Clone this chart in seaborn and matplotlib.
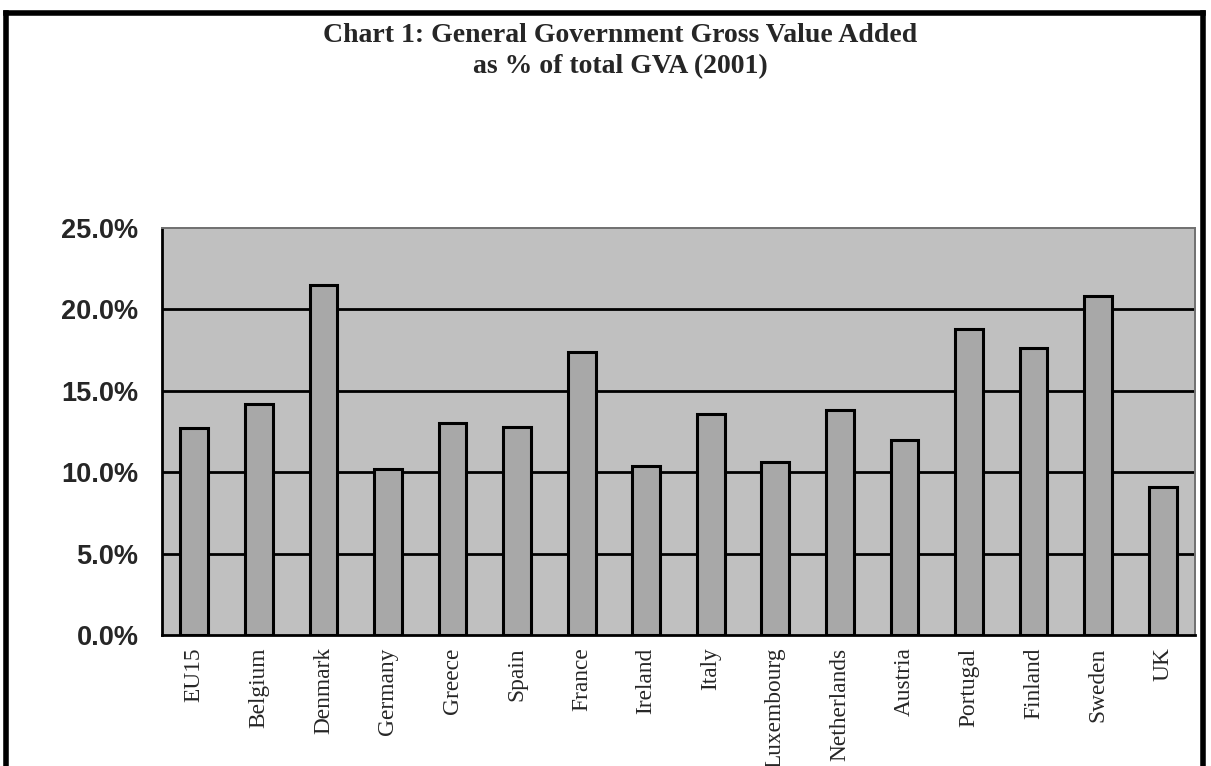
import matplotlib
matplotlib.use("Agg")
import matplotlib.pyplot as plt
from matplotlib.lines import Line2D
from matplotlib.ticker import FixedLocator, PercentFormatter
import seaborn as sns
import pandas as pd

countries = ["EU15", "Belgium", "Denmark", "Germany", "Greece", "Spain", "France",
             "Ireland", "Italy", "Luxembourg", "Netherlands", "Austria", "Portugal",
             "Finland", "Sweden", "UK"]
gva_share = [12.7, 14.2, 21.5, 10.2, 13.0, 12.8, 17.4, 10.4, 13.6, 10.6, 13.8,
             12.0, 18.8, 17.6, 20.8, 9.1]
y_ticks = [0, 5, 10, 15, 20, 25]

df = pd.DataFrame({"country": countries, "share": gva_share})

sns.set_style("white")
W, H = 1211, 766
fig = plt.figure(figsize=(W / 100, H / 100), dpi=100)
fig.patch.set_facecolor("white")

ax = fig.add_axes([162 / W, (H - 635) / H, (1195 - 162) / W, (635 - 228) / H])
ax.set_facecolor("#c0c0c0")

sns.barplot(data=df, x="country", y="share", order=countries, color="#a8a8a8",
            saturation=1, width=0.43, edgecolor="black", linewidth=2.2, ax=ax,
            zorder=3)

ax.set_ylim(0, 25)
ax.set_xlim(-0.5, len(countries) - 0.5)
ax.set_yticks(y_ticks)
ax.yaxis.set_major_formatter(PercentFormatter(decimals=1))
ax.set_xlabel("")
ax.set_ylabel("")

# horizontal gridlines behind the bars
for v in y_ticks[1:-1]:
    ax.axhline(v, color="black", linewidth=2.0, zorder=1)

# spines
for side in ("left", "bottom"):
    ax.spines[side].set_color("black")
    ax.spines[side].set_linewidth(2.0)
for side in ("top", "right"):
    ax.spines[side].set_color("#707070")
    ax.spines[side].set_linewidth(1.4)

ax.tick_params(axis="y", which="major", direction="inout", length=14, width=2,
               color="black", pad=10)
for lab in ax.get_yticklabels():
    lab.set_fontfamily("Liberation Sans")
    lab.set_fontweight("bold")
    lab.set_fontsize(19.5)

# category separators on the x axis, labels at the bar centres
ax.xaxis.set_minor_locator(FixedLocator([i - 0.5 for i in range(len(countries) + 1)]))
ax.tick_params(axis="x", which="minor", direction="inout", length=14, width=2,
               color="black")
ax.tick_params(axis="x", which="major", length=0, pad=9)
ax.set_xticks(range(len(countries)))
ax.set_xticklabels(countries, rotation=90, fontfamily="Liberation Serif",
                   fontsize=16.8, va="top", ha="center")

# title
title_kw = dict(ha="center", va="center", fontfamily="Liberation Serif",
                fontweight="bold", fontsize=20)
fig.text(620 / W, 1 - 36 / H, "Chart 1: General Government Gross Value Added",
         **title_kw)
fig.text(620 / W, 1 - 67 / H, "as % of total GVA (2001)", **title_kw)

# frame around the figure (left, top, right)
lw = 4
frame_kw = dict(transform=fig.transFigure, color="black", linewidth=lw,
                solid_capstyle="projecting")
fig.add_artist(Line2D([6 / W, 6 / W], [0, 1 - 13 / H], **frame_kw))
fig.add_artist(Line2D([6 / W, 1203 / W], [1 - 13 / H, 1 - 13 / H], **frame_kw))
fig.add_artist(Line2D([1203 / W, 1203 / W], [0, 1 - 13 / H], **frame_kw))

fig.savefig("out.png", dpi=100)
